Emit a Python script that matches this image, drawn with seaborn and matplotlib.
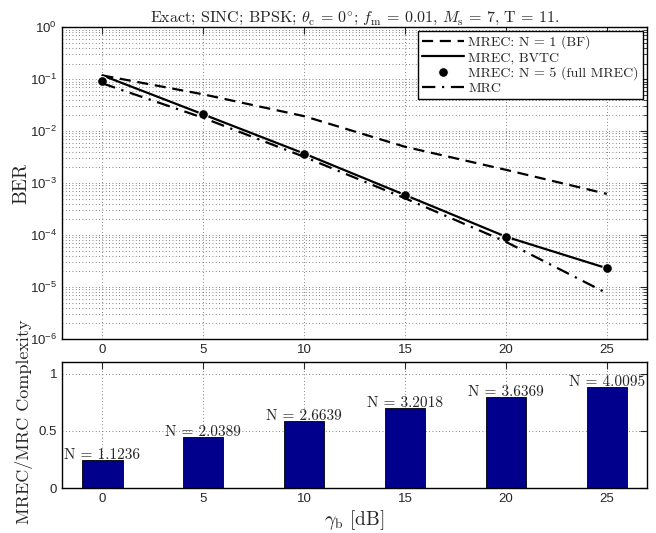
import seaborn as sns
import matplotlib.pyplot as plt
import matplotlib.ticker as mticker
import pandas as pd
import numpy as np

# -------------------------
# Data
# -------------------------

snr_db = [0, 5, 10, 15, 20, 25]

ber_bf = [0.118, 0.051, 0.0194, 0.005, 0.0018, 0.00062]       # MREC: N = 1 (BF)
ber_bvtc = [0.118, 0.021, 0.0037, 0.00059, 0.000093, 0.000023]  # MREC, BVTC
ber_full = [0.093, 0.021, 0.0037, 0.00059, 0.000093, 0.000023]  # MREC: N = 5 (full MREC)
ber_mrc = [0.083, 0.018, 0.0032, 0.00051, 0.000074, 0.0000076]  # MRC

complexity = [0.247, 0.447, 0.583, 0.702, 0.796, 0.88]
n_labels = ["N = 1.1236", "N = 2.0389", "N = 2.6639", "N = 3.2018", "N = 3.6369", "N = 4.0095"]

# -------------------------
# Styling
# -------------------------

sns.set_style("white")
plt.rcParams["font.family"] = ["Liberation Sans", "DejaVu Sans"]
plt.rcParams["xtick.direction"] = "in"
plt.rcParams["ytick.direction"] = "in"
plt.rcParams["xtick.top"] = True
plt.rcParams["ytick.right"] = True
plt.rcParams["axes.edgecolor"] = "black"
plt.rcParams["axes.linewidth"] = 1.0

serif = dict(family="cmr10", math_fontfamily="cm")
grid_kw = dict(color="0.35", linestyle=(0, (1, 3)), linewidth=0.6)

fig = plt.figure(figsize=(6.56, 5.33), dpi=100)
ax1 = fig.add_axes([0.0945, 0.364, 0.892, 0.585])
ax2 = fig.add_axes([0.0945, 0.0844, 0.892, 0.236])

# -------------------------
# Top panel: BER curves
# -------------------------

df = pd.DataFrame({"snr": snr_db, "bf": ber_bf, "bvtc": ber_bvtc,
                   "full": ber_full, "mrc": ber_mrc})

sns.lineplot(data=df, x="snr", y="bf", ax=ax1, color="black", lw=1.6,
             linestyle=(0, (5, 3)), label="MREC: N = 1 (BF)")
sns.lineplot(data=df, x="snr", y="bvtc", ax=ax1, color="black", lw=1.6,
             label="MREC, BVTC")
sns.lineplot(data=df, x="snr", y="full", ax=ax1, color="black", lw=0,
             marker="o", markersize=7, label="MREC: N = 5 (full MREC)")
sns.lineplot(data=df, x="snr", y="mrc", ax=ax1, color="black", lw=1.6,
             linestyle=(0, (6, 3, 1, 3)), label="MRC")

ax1.set_yscale("log")
ax1.set_ylim(1e-6, 1)
ax1.set_xlim(-2, 27)
ax1.set_xticks(snr_db)
ax1.yaxis.set_major_locator(mticker.LogLocator(base=10, numticks=10))
ax1.yaxis.set_minor_locator(mticker.LogLocator(base=10, subs=np.arange(2, 10), numticks=20))
ax1.yaxis.set_minor_formatter(mticker.NullFormatter())
ax1.grid(True, which="major", axis="both", **grid_kw)
ax1.grid(True, which="minor", axis="y", **grid_kw)
ax1.tick_params(which="both", labelsize=9.5)
ax1.tick_params(which="major", length=5)
ax1.tick_params(which="minor", length=3)
ax1.set_xlabel("")
ax1.set_ylabel("BER", fontsize=14, **serif)
ax1.yaxis.set_label_coords(-0.054, 0.5)
ax1.set_title(r"Exact; SINC; BPSK; $\theta_{\rm c}$ = 0$^{\circ}$; $f_{\rm m}$ = 0.01, "
              r"$M_{\rm s}$ = 7, T = 11.", fontsize=11.5, pad=4, **serif)

leg = ax1.legend(loc="upper right", fancybox=False, framealpha=1, edgecolor="black",
                 borderaxespad=0.3, handlelength=3.0, handletextpad=0.3,
                 labelspacing=0.15, borderpad=0.3, prop=dict(family="cmr10", size=10))
leg.get_frame().set_linewidth(1.0)

# -------------------------
# Bottom panel: complexity bars
# -------------------------

df_c = pd.DataFrame({"snr": snr_db, "complexity": complexity})
sns.barplot(data=df_c, x="snr", y="complexity", ax=ax2, native_scale=True,
            width=0.4, color="#00008C", saturation=1, edgecolor="black", linewidth=0.6)

for x, h, lab in zip(snr_db, complexity, n_labels):
    ax2.text(x, h + 0.01, lab, ha="center", va="baseline", fontsize=11, **serif)

ax2.set_xlim(-2, 27)
ax2.set_ylim(0, 1.1)
ax2.set_xticks(snr_db)
ax2.set_xticklabels([str(v) for v in snr_db])
ax2.set_yticks([0, 0.5, 1])
ax2.set_yticklabels(["0", "0.5", "1"])
ax2.grid(True, which="major", **grid_kw)
ax2.set_axisbelow(True)
ax2.tick_params(labelsize=9.5, length=5)
ax2.set_xlabel(r"$\gamma_{\rm b}$ [dB]", fontsize=14, labelpad=2, **serif)
ax2.set_ylabel("MREC/MRC Complexity", fontsize=13, **serif)
ax2.yaxis.set_label_coords(-0.05, 0.53)

plt.savefig("out.png", dpi=100)
plt.close()
